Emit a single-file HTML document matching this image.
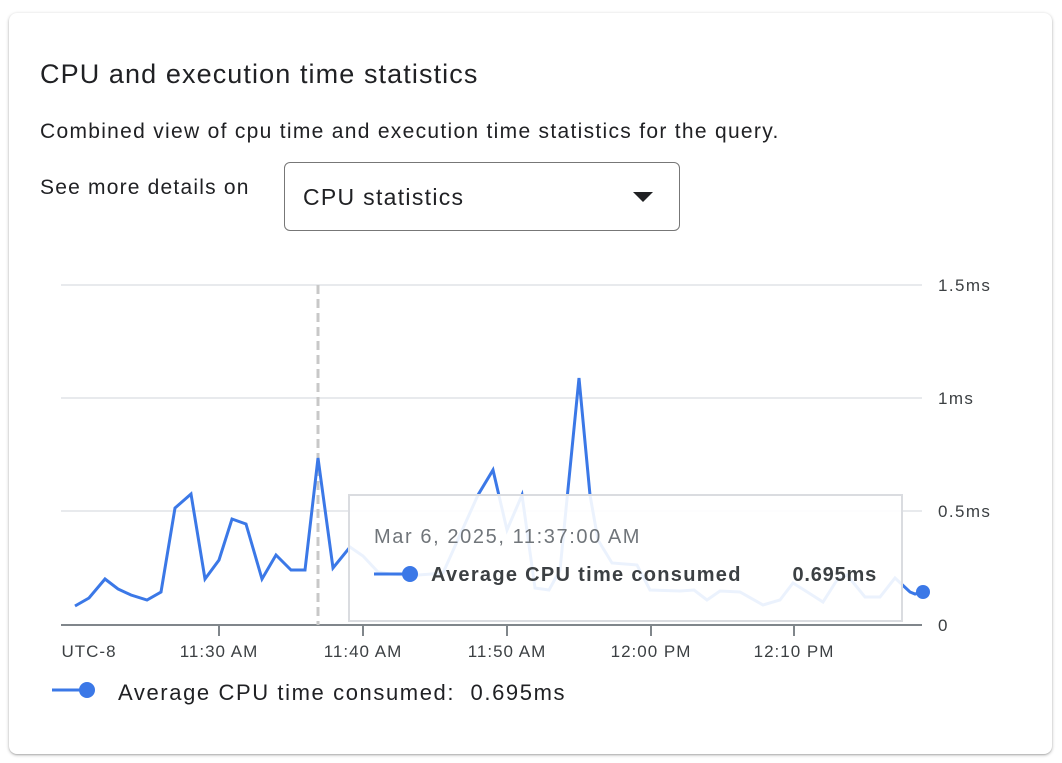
<!DOCTYPE html>
<html><head><meta charset="utf-8"><style>
body{margin:0;width:1062px;height:763px;background:#fff;font-family:"Liberation Sans",Arial,sans-serif;overflow:hidden}
.card{position:absolute;left:9px;top:13px;width:1043px;height:741px;border-radius:8px;box-shadow:0 1px 3px rgba(0,0,0,.3),0 1px 1px rgba(0,0,0,.1);background:#fff}
.t{position:absolute;color:#202124;white-space:nowrap}
.dd{position:absolute;left:284px;top:162px;width:396px;height:69px;border:1.5px solid #777;border-radius:6px;box-sizing:border-box}
</style></head><body>
<div class="card"></div>
<div class="t" style="left:40px;top:59px;font-size:27px;letter-spacing:1.1px">CPU and execution time statistics</div>
<div class="t" style="left:40px;top:120px;font-size:21px;letter-spacing:1.3px">Combined view of cpu time and execution time statistics for the query.</div>
<div class="t" style="left:40px;top:176px;font-size:21px;letter-spacing:1.2px">See more details on</div>
<div class="dd"><div class="t" style="left:18px;top:21px;font-size:23px;letter-spacing:1.3px">CPU statistics</div>
<svg style="position:absolute;left:348px;top:29px" width="20" height="12"><polygon points="0,0 20,0 10,10" fill="#202124"/></svg></div>
<svg style="position:absolute;left:0;top:0" width="1062" height="763">
<g stroke="#e8eaed" stroke-width="2"><line x1="61" y1="285" x2="922" y2="285"/><line x1="61" y1="398" x2="922" y2="398"/><line x1="61" y1="511" x2="922" y2="511"/></g>
<line x1="61" y1="625" x2="922" y2="625" stroke="#80868b" stroke-width="2"/>
<g stroke="#80868b" stroke-width="2"><line x1="219" y1="625" x2="219" y2="636"/><line x1="363" y1="625" x2="363" y2="636"/><line x1="507" y1="625" x2="507" y2="636"/><line x1="651" y1="625" x2="651" y2="636"/><line x1="794" y1="625" x2="794" y2="636"/></g>
<line x1="318" y1="285" x2="318" y2="625" stroke="#c8c8c8" stroke-width="3" stroke-dasharray="9,5"/>
<polyline fill="none" stroke="#3b78e7" stroke-width="3" stroke-linejoin="miter" points="75,606 89,598 105,579 118,589 131,595 147,600 161,592 175,508 191,494 205,579 219,560 232,519 246,524 262,579 276,555 291,570 305,570 318,458 333,568 350,547 363,556 378,572 390,574 405,575 418,575 432,574 443,573 460,535 478,495 493,470 507,530 522,495 535,588 549,590 560,570 579,378 590,495 598,540 612,563 637,565 650,590 680,591 694,590 707,600 720,591 740,592 763,605 780,600 793,583 812,595 823,602 837,580 847,575 865,597 880,597 895,578 910,592 915,594 923,592"/>
<circle cx="923" cy="592" r="7" fill="#3b78e7"/>
<rect x="349" y="495" width="553" height="126" fill="#fff" fill-opacity="0.9" stroke="#dadce0" stroke-width="2"/>
<text x="374" y="543" font-size="20" fill="#70757a" letter-spacing="1.6">Mar 6, 2025, 11:37:00 AM</text>
<line x1="374" y1="574" x2="406" y2="574" stroke="#3b78e7" stroke-width="3"/><circle cx="410" cy="574" r="8" fill="#3b78e7"/>
<text x="431" y="581" font-size="20" fill="#3c4043" font-weight="bold" letter-spacing="1.3">Average CPU time consumed</text>
<text x="877" y="581" font-size="20" fill="#3c4043" text-anchor="end" font-weight="bold" letter-spacing="0.8">0.695ms</text>
<g font-size="17" fill="#3c4043" letter-spacing="1.4"><text x="938" y="291">1.5ms</text><text x="938" y="404">1ms</text><text x="938" y="517">0.5ms</text><text x="938" y="631">0</text></g>
<g font-size="17" fill="#3c4043" text-anchor="middle" letter-spacing="1"><text x="89" y="657">UTC-8</text><text x="219" y="657">11:30 AM</text><text x="363" y="657">11:40 AM</text><text x="507" y="657">11:50 AM</text><text x="651" y="657">12:00 PM</text><text x="794" y="657">12:10 PM</text></g>
<line x1="52" y1="690" x2="84" y2="690" stroke="#3b78e7" stroke-width="3"/><circle cx="87" cy="690" r="8" fill="#3b78e7"/>
<text x="118" y="700" font-size="22" fill="#202124" letter-spacing="1.6" xml:space="preserve">Average CPU time consumed:  0.695ms</text>
</svg>
</body></html>
